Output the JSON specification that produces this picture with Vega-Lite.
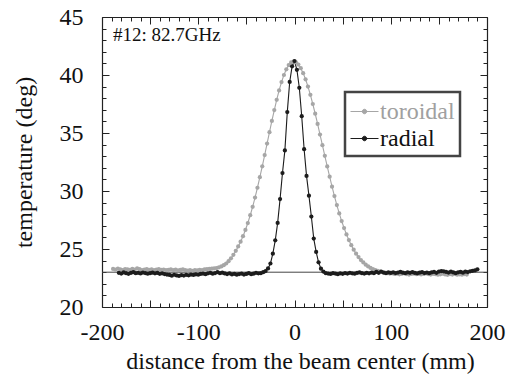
{
  "$schema": "https://vega.github.io/schema/vega-lite/v6.json",
  "width": 385,
  "height": 290,
  "autosize": {"type": "none"},
  "padding": {"left": 102, "top": 17, "right": 23, "bottom": 68},
  "config": {
    "font": "Liberation Serif",
    "view": {"stroke": null},
    "text": {"font": "Liberation Serif"},
    "legend": {"labelFont": "Liberation Serif"},
    "axis": {
      "grid": false,
      "domainColor": "#222",
      "domainWidth": 1.2,
      "tickColor": "#222",
      "tickWidth": 1,
      "labelFont": "Liberation Serif",
      "labelFontSize": 24,
      "labelColor": "#111",
      "titleFont": "Liberation Serif",
      "titleFontSize": 24,
      "titleFontWeight": "normal",
      "titleColor": "#111",
      "labelOverlap": false,
      "labelFlush": false
    }
  },
  "data": {
    "values": [
      {"series": "toroidal", "x": -188.5, "y": 23.28},
      {"series": "toroidal", "x": -186, "y": 23.22},
      {"series": "toroidal", "x": -183.5, "y": 23.31},
      {"series": "toroidal", "x": -181, "y": 23.25},
      {"series": "toroidal", "x": -178.5, "y": 23.18},
      {"series": "toroidal", "x": -176, "y": 23.27},
      {"series": "toroidal", "x": -173.5, "y": 23.24},
      {"series": "toroidal", "x": -171, "y": 23.2},
      {"series": "toroidal", "x": -168.5, "y": 23.29},
      {"series": "toroidal", "x": -166, "y": 23.23},
      {"series": "toroidal", "x": -163.5, "y": 23.34},
      {"series": "toroidal", "x": -161, "y": 23.26},
      {"series": "toroidal", "x": -158.5, "y": 23.19},
      {"series": "toroidal", "x": -156, "y": 23.22},
      {"series": "toroidal", "x": -153.5, "y": 23.27},
      {"series": "toroidal", "x": -151, "y": 23.2},
      {"series": "toroidal", "x": -148.5, "y": 23.24},
      {"series": "toroidal", "x": -146, "y": 23.17},
      {"series": "toroidal", "x": -143.5, "y": 23.22},
      {"series": "toroidal", "x": -141, "y": 23.26},
      {"series": "toroidal", "x": -138.5, "y": 23.2},
      {"series": "toroidal", "x": -136, "y": 23.23},
      {"series": "toroidal", "x": -133.5, "y": 23.18},
      {"series": "toroidal", "x": -131, "y": 23.21},
      {"series": "toroidal", "x": -128.5, "y": 23.25},
      {"series": "toroidal", "x": -126, "y": 23.19},
      {"series": "toroidal", "x": -123.5, "y": 23.22},
      {"series": "toroidal", "x": -121, "y": 23.16},
      {"series": "toroidal", "x": -118.5, "y": 23.2},
      {"series": "toroidal", "x": -116, "y": 23.24},
      {"series": "toroidal", "x": -113.5, "y": 23.18},
      {"series": "toroidal", "x": -111, "y": 23.13},
      {"series": "toroidal", "x": -108.5, "y": 23.17},
      {"series": "toroidal", "x": -106, "y": 23.12},
      {"series": "toroidal", "x": -103.5, "y": 23.19},
      {"series": "toroidal", "x": -101, "y": 23.15},
      {"series": "toroidal", "x": -98.5, "y": 23.21},
      {"series": "toroidal", "x": -96, "y": 23.18},
      {"series": "toroidal", "x": -93.5, "y": 23.24},
      {"series": "toroidal", "x": -91, "y": 23.26},
      {"series": "toroidal", "x": -88.5, "y": 23.28},
      {"series": "toroidal", "x": -86, "y": 23.3},
      {"series": "toroidal", "x": -83.5, "y": 23.33},
      {"series": "toroidal", "x": -81, "y": 23.36},
      {"series": "toroidal", "x": -78.5, "y": 23.42},
      {"series": "toroidal", "x": -76, "y": 23.5},
      {"series": "toroidal", "x": -73.5, "y": 23.6},
      {"series": "toroidal", "x": -71, "y": 23.75},
      {"series": "toroidal", "x": -68.5, "y": 23.95},
      {"series": "toroidal", "x": -66, "y": 24.2},
      {"series": "toroidal", "x": -63.5, "y": 24.5},
      {"series": "toroidal", "x": -61, "y": 24.84},
      {"series": "toroidal", "x": -58.5, "y": 25.22},
      {"series": "toroidal", "x": -56, "y": 25.63},
      {"series": "toroidal", "x": -53.5, "y": 26.1},
      {"series": "toroidal", "x": -51, "y": 26.64},
      {"series": "toroidal", "x": -48.5, "y": 27.24},
      {"series": "toroidal", "x": -46, "y": 27.91},
      {"series": "toroidal", "x": -43.5, "y": 28.64},
      {"series": "toroidal", "x": -41, "y": 29.43},
      {"series": "toroidal", "x": -38.5, "y": 30.28},
      {"series": "toroidal", "x": -36, "y": 31.19},
      {"series": "toroidal", "x": -33.5, "y": 32.13},
      {"series": "toroidal", "x": -31, "y": 33.1},
      {"series": "toroidal", "x": -28.5, "y": 34.09},
      {"series": "toroidal", "x": -26, "y": 35.07},
      {"series": "toroidal", "x": -23.5, "y": 36.04},
      {"series": "toroidal", "x": -21, "y": 36.98},
      {"series": "toroidal", "x": -18.5, "y": 37.86},
      {"series": "toroidal", "x": -16, "y": 38.67},
      {"series": "toroidal", "x": -13.5, "y": 39.39},
      {"series": "toroidal", "x": -11, "y": 40.0},
      {"series": "toroidal", "x": -8.5, "y": 40.49},
      {"series": "toroidal", "x": -6, "y": 40.86},
      {"series": "toroidal", "x": -3.5, "y": 41.08},
      {"series": "toroidal", "x": -1, "y": 41.15},
      {"series": "toroidal", "x": 1.5, "y": 41.09},
      {"series": "toroidal", "x": 4, "y": 40.9},
      {"series": "toroidal", "x": 6.5, "y": 40.59},
      {"series": "toroidal", "x": 9, "y": 40.16},
      {"series": "toroidal", "x": 11.5, "y": 39.63},
      {"series": "toroidal", "x": 14, "y": 39.0},
      {"series": "toroidal", "x": 16.5, "y": 38.29},
      {"series": "toroidal", "x": 19, "y": 37.5},
      {"series": "toroidal", "x": 21.5, "y": 36.66},
      {"series": "toroidal", "x": 24, "y": 35.78},
      {"series": "toroidal", "x": 26.5, "y": 34.87},
      {"series": "toroidal", "x": 29, "y": 33.95},
      {"series": "toroidal", "x": 31.5, "y": 33.03},
      {"series": "toroidal", "x": 34, "y": 32.12},
      {"series": "toroidal", "x": 36.5, "y": 31.23},
      {"series": "toroidal", "x": 39, "y": 30.37},
      {"series": "toroidal", "x": 41.5, "y": 29.56},
      {"series": "toroidal", "x": 44, "y": 28.79},
      {"series": "toroidal", "x": 46.5, "y": 28.07},
      {"series": "toroidal", "x": 49, "y": 27.41},
      {"series": "toroidal", "x": 51.5, "y": 26.81},
      {"series": "toroidal", "x": 54, "y": 26.26},
      {"series": "toroidal", "x": 56.5, "y": 25.77},
      {"series": "toroidal", "x": 59, "y": 25.33},
      {"series": "toroidal", "x": 61.5, "y": 24.94},
      {"series": "toroidal", "x": 64, "y": 24.6},
      {"series": "toroidal", "x": 66.5, "y": 24.31},
      {"series": "toroidal", "x": 69, "y": 24.05},
      {"series": "toroidal", "x": 71.5, "y": 23.84},
      {"series": "toroidal", "x": 74, "y": 23.65},
      {"series": "toroidal", "x": 76.5, "y": 23.5},
      {"series": "toroidal", "x": 79, "y": 23.37},
      {"series": "toroidal", "x": 81.5, "y": 23.27},
      {"series": "toroidal", "x": 84, "y": 23.18},
      {"series": "toroidal", "x": 86.5, "y": 23.11},
      {"series": "toroidal", "x": 89, "y": 23.05},
      {"series": "toroidal", "x": 91.5, "y": 23.0},
      {"series": "toroidal", "x": 94, "y": 22.96},
      {"series": "toroidal", "x": 96.5, "y": 22.92},
      {"series": "toroidal", "x": 99, "y": 22.88},
      {"series": "toroidal", "x": 101.5, "y": 22.9},
      {"series": "toroidal", "x": 104, "y": 22.85},
      {"series": "toroidal", "x": 106.5, "y": 22.87},
      {"series": "toroidal", "x": 109, "y": 22.82},
      {"series": "toroidal", "x": 111.5, "y": 22.86},
      {"series": "toroidal", "x": 114, "y": 22.9},
      {"series": "toroidal", "x": 116.5, "y": 22.84},
      {"series": "toroidal", "x": 119, "y": 22.8},
      {"series": "toroidal", "x": 121.5, "y": 22.85},
      {"series": "toroidal", "x": 124, "y": 22.88},
      {"series": "toroidal", "x": 126.5, "y": 22.83},
      {"series": "toroidal", "x": 129, "y": 22.86},
      {"series": "toroidal", "x": 131.5, "y": 22.81},
      {"series": "toroidal", "x": 134, "y": 22.85},
      {"series": "toroidal", "x": 136.5, "y": 22.89},
      {"series": "toroidal", "x": 139, "y": 22.84},
      {"series": "toroidal", "x": 141.5, "y": 22.8},
      {"series": "toroidal", "x": 144, "y": 22.86},
      {"series": "toroidal", "x": 146.5, "y": 22.83},
      {"series": "toroidal", "x": 149, "y": 22.78},
      {"series": "toroidal", "x": 151.5, "y": 22.82},
      {"series": "toroidal", "x": 154, "y": 22.87},
      {"series": "toroidal", "x": 156.5, "y": 22.81},
      {"series": "toroidal", "x": 159, "y": 22.77},
      {"series": "toroidal", "x": 161.5, "y": 22.83},
      {"series": "toroidal", "x": 164, "y": 22.8},
      {"series": "toroidal", "x": 166.5, "y": 22.85},
      {"series": "toroidal", "x": 169, "y": 22.79},
      {"series": "toroidal", "x": 171.5, "y": 22.82},
      {"series": "toroidal", "x": 174, "y": 22.78},
      {"series": "toroidal", "x": 176.5, "y": 22.84},
      {"series": "toroidal", "x": 179, "y": 22.8},
      {"series": "radial", "x": -182.5, "y": 22.95},
      {"series": "radial", "x": -180, "y": 22.88},
      {"series": "radial", "x": -177.5, "y": 22.98},
      {"series": "radial", "x": -175, "y": 22.92},
      {"series": "radial", "x": -172.5, "y": 22.86},
      {"series": "radial", "x": -170, "y": 22.94},
      {"series": "radial", "x": -167.5, "y": 23.0},
      {"series": "radial", "x": -165, "y": 22.91},
      {"series": "radial", "x": -162.5, "y": 22.95},
      {"series": "radial", "x": -160, "y": 22.89},
      {"series": "radial", "x": -157.5, "y": 22.97},
      {"series": "radial", "x": -155, "y": 22.93},
      {"series": "radial", "x": -152.5, "y": 22.87},
      {"series": "radial", "x": -150, "y": 22.92},
      {"series": "radial", "x": -147.5, "y": 22.96},
      {"series": "radial", "x": -145, "y": 22.9},
      {"series": "radial", "x": -142.5, "y": 22.94},
      {"series": "radial", "x": -140, "y": 22.86},
      {"series": "radial", "x": -137.5, "y": 22.9},
      {"series": "radial", "x": -135, "y": 22.84},
      {"series": "radial", "x": -132.5, "y": 22.8},
      {"series": "radial", "x": -130, "y": 22.76},
      {"series": "radial", "x": -127.5, "y": 22.7},
      {"series": "radial", "x": -125, "y": 22.78},
      {"series": "radial", "x": -122.5, "y": 22.72},
      {"series": "radial", "x": -120, "y": 22.68},
      {"series": "radial", "x": -117.5, "y": 22.75},
      {"series": "radial", "x": -115, "y": 22.71},
      {"series": "radial", "x": -112.5, "y": 22.77},
      {"series": "radial", "x": -110, "y": 22.73},
      {"series": "radial", "x": -107.5, "y": 22.8},
      {"series": "radial", "x": -105, "y": 22.76},
      {"series": "radial", "x": -102.5, "y": 22.82},
      {"series": "radial", "x": -100, "y": 22.78},
      {"series": "radial", "x": -97.5, "y": 22.85},
      {"series": "radial", "x": -95, "y": 22.88},
      {"series": "radial", "x": -92.5, "y": 22.83},
      {"series": "radial", "x": -90, "y": 22.9},
      {"series": "radial", "x": -87.5, "y": 22.95},
      {"series": "radial", "x": -85, "y": 22.87},
      {"series": "radial", "x": -82.5, "y": 22.93},
      {"series": "radial", "x": -80, "y": 23.0},
      {"series": "radial", "x": -77.5, "y": 22.92},
      {"series": "radial", "x": -75, "y": 22.96},
      {"series": "radial", "x": -72.5, "y": 22.89},
      {"series": "radial", "x": -70, "y": 22.84},
      {"series": "radial", "x": -67.5, "y": 22.9},
      {"series": "radial", "x": -65, "y": 22.81},
      {"series": "radial", "x": -62.5, "y": 22.86},
      {"series": "radial", "x": -60, "y": 22.79},
      {"series": "radial", "x": -57.5, "y": 22.84},
      {"series": "radial", "x": -55, "y": 22.88},
      {"series": "radial", "x": -52.5, "y": 22.8},
      {"series": "radial", "x": -50, "y": 22.85},
      {"series": "radial", "x": -47.5, "y": 22.91},
      {"series": "radial", "x": -45, "y": 22.83},
      {"series": "radial", "x": -42.5, "y": 22.87},
      {"series": "radial", "x": -40, "y": 22.95},
      {"series": "radial", "x": -37.5, "y": 22.9},
      {"series": "radial", "x": -35, "y": 22.92},
      {"series": "radial", "x": -32.5, "y": 23.0},
      {"series": "radial", "x": -30, "y": 23.1},
      {"series": "radial", "x": -27.5, "y": 23.32},
      {"series": "radial", "x": -25, "y": 23.75},
      {"series": "radial", "x": -22.5, "y": 24.6},
      {"series": "radial", "x": -20, "y": 25.75},
      {"series": "radial", "x": -17.5, "y": 27.25},
      {"series": "radial", "x": -15, "y": 29.3},
      {"series": "radial", "x": -12.5, "y": 31.55},
      {"series": "radial", "x": -10, "y": 33.5},
      {"series": "radial", "x": -7.5, "y": 36.8},
      {"series": "radial", "x": -5, "y": 39.4},
      {"series": "radial", "x": -2.5, "y": 40.75},
      {"series": "radial", "x": 0, "y": 41.2},
      {"series": "radial", "x": 2.5, "y": 40.45},
      {"series": "radial", "x": 5, "y": 38.9},
      {"series": "radial", "x": 7.5, "y": 36.45},
      {"series": "radial", "x": 10, "y": 33.6},
      {"series": "radial", "x": 12.5, "y": 31.3},
      {"series": "radial", "x": 15, "y": 29.6},
      {"series": "radial", "x": 17.5, "y": 27.8},
      {"series": "radial", "x": 20, "y": 25.9},
      {"series": "radial", "x": 22.5, "y": 24.75},
      {"series": "radial", "x": 25, "y": 23.85},
      {"series": "radial", "x": 27.5, "y": 23.3},
      {"series": "radial", "x": 30, "y": 23.05},
      {"series": "radial", "x": 32.5, "y": 22.92},
      {"series": "radial", "x": 35, "y": 22.88},
      {"series": "radial", "x": 37.5, "y": 22.85},
      {"series": "radial", "x": 40, "y": 22.92},
      {"series": "radial", "x": 42.5, "y": 22.88},
      {"series": "radial", "x": 45, "y": 22.83},
      {"series": "radial", "x": 47.5, "y": 22.9},
      {"series": "radial", "x": 50, "y": 22.86},
      {"series": "radial", "x": 52.5, "y": 22.93},
      {"series": "radial", "x": 55, "y": 22.88},
      {"series": "radial", "x": 57.5, "y": 22.95},
      {"series": "radial", "x": 60, "y": 22.9},
      {"series": "radial", "x": 62.5, "y": 22.87},
      {"series": "radial", "x": 65, "y": 22.94},
      {"series": "radial", "x": 67.5, "y": 22.98},
      {"series": "radial", "x": 70, "y": 22.91},
      {"series": "radial", "x": 72.5, "y": 22.88},
      {"series": "radial", "x": 75, "y": 22.95},
      {"series": "radial", "x": 77.5, "y": 22.9},
      {"series": "radial", "x": 80, "y": 22.97},
      {"series": "radial", "x": 82.5, "y": 22.92},
      {"series": "radial", "x": 85, "y": 23.02},
      {"series": "radial", "x": 87.5, "y": 22.95},
      {"series": "radial", "x": 90, "y": 23.05},
      {"series": "radial", "x": 92.5, "y": 22.97},
      {"series": "radial", "x": 95, "y": 22.92},
      {"series": "radial", "x": 97.5, "y": 22.98},
      {"series": "radial", "x": 100, "y": 22.94},
      {"series": "radial", "x": 102.5, "y": 22.99},
      {"series": "radial", "x": 105, "y": 22.93},
      {"series": "radial", "x": 107.5, "y": 22.97},
      {"series": "radial", "x": 110, "y": 23.03},
      {"series": "radial", "x": 112.5, "y": 22.96},
      {"series": "radial", "x": 115, "y": 22.92},
      {"series": "radial", "x": 117.5, "y": 22.98},
      {"series": "radial", "x": 120, "y": 22.95},
      {"series": "radial", "x": 122.5, "y": 23.01},
      {"series": "radial", "x": 125, "y": 22.94},
      {"series": "radial", "x": 127.5, "y": 22.9},
      {"series": "radial", "x": 130, "y": 22.96},
      {"series": "radial", "x": 132.5, "y": 23.0},
      {"series": "radial", "x": 135, "y": 22.93},
      {"series": "radial", "x": 137.5, "y": 22.97},
      {"series": "radial", "x": 140, "y": 22.92},
      {"series": "radial", "x": 142.5, "y": 22.98},
      {"series": "radial", "x": 145, "y": 23.02},
      {"series": "radial", "x": 147.5, "y": 22.95},
      {"series": "radial", "x": 150, "y": 23.05},
      {"series": "radial", "x": 152.5, "y": 23.1},
      {"series": "radial", "x": 155, "y": 23.08},
      {"series": "radial", "x": 157.5, "y": 23.02},
      {"series": "radial", "x": 160, "y": 22.97},
      {"series": "radial", "x": 162.5, "y": 23.04},
      {"series": "radial", "x": 165, "y": 22.98},
      {"series": "radial", "x": 167.5, "y": 22.92},
      {"series": "radial", "x": 170, "y": 22.99},
      {"series": "radial", "x": 172.5, "y": 23.03},
      {"series": "radial", "x": 175, "y": 22.96},
      {"series": "radial", "x": 177.5, "y": 23.06},
      {"series": "radial", "x": 180, "y": 23.01},
      {"series": "radial", "x": 182.5, "y": 23.08},
      {"series": "radial", "x": 185, "y": 23.12},
      {"series": "radial", "x": 187.5, "y": 23.15},
      {"series": "radial", "x": 190, "y": 23.25}
    ]
  },
  "layer": [
    {
      "data": {"values": [{"y": 23}]},
      "mark": {"type": "rule", "color": "#444", "strokeWidth": 1},
      "encoding": {
        "y": {"field": "y", "type": "quantitative", "scale": {"domain": [20, 45], "nice": false, "zero": false}, "axis": null}
      }
    },
    {
      "mark": {"type": "line", "strokeWidth": 1.1},
      "encoding": {
        "x": {
          "field": "x", "type": "quantitative",
          "scale": {"domain": [-200, 200], "nice": false, "zero": false},
          "axis": {
            "orient": "bottom",
            "title": "distance from the beam center (mm)",
            "values": [-200,-190,-180,-170,-160,-150,-140,-130,-120,-110,-100,-90,-80,-70,-60,-50,-40,-30,-20,-10,0,10,20,30,40,50,60,70,80,90,100,110,120,130,140,150,160,170,180,190,200],
            "labelExpr": "datum.value % 100 === 0 ? (datum.value < 0 ? '-' : '') + abs(datum.value) : ''",
            "labelFont": "Liberation Serif",
            "tickSize": {"condition": {"test": "datum.value % 50 === 0", "value": -7}, "value": -4},
            "labelPadding": 20,
            "titlePadding": 2,
            "titleX": 198
          }
        },
        "y": {
          "field": "y", "type": "quantitative",
          "scale": {"domain": [20, 45], "nice": false, "zero": false},
          "axis": {
            "orient": "left",
            "title": "temperature (deg)",
            "values": [20,21,22,23,24,25,26,27,28,29,30,31,32,33,34,35,36,37,38,39,40,41,42,43,44,45],
            "labelExpr": "datum.value % 5 === 0 ? '' + datum.value : ''",
            "labelFont": "Liberation Serif",
            "tickSize": {"condition": {"test": "datum.value % 5 === 0", "value": -7}, "value": -4},
            "labelPadding": 26,
            "titlePadding": 23
          }
        },
        "color": {
          "field": "series", "type": "nominal",
          "scale": {"domain": ["toroidal", "radial"], "range": ["#a6a6a6", "#1c1c1c"]},
          "legend": {
            "title": null,
            "orient": "none",
            "legendX": 243,
            "legendY": 75,
            "direction": "vertical",
            "symbolType": "M-1,0H1M-0.16,0A0.16,0.16,0,1,0,0.16,0A0.16,0.16,0,1,0,-0.16,0",
            "symbolSize": 784,
            "symbolStrokeWidth": 1,
            "labelFont": "Liberation Serif",
            "labelFontSize": 24,
            "labelOffset": 1,
            "padding": 5,
            "rowPadding": -5,
            "strokeColor": "#444",
            "fillColor": "white",
            "encode": {
              "legend": {"update": {"strokeWidth": {"value": 2.5}}},
              "labels": {"update": {"font": {"value": "Liberation Serif"}, "fill": [{"test": "datum.value === 'toroidal'", "value": "#a0a0a0"}, {"value": "#111"}]}},
              "symbols": {"update": {"fill": {"scale": "color", "field": "value"}, "stroke": {"scale": "color", "field": "value"}}}
            }
          }
        }
      }
    },
    {
      "mark": {"type": "point", "filled": true, "size": 18, "opacity": 1},
      "encoding": {
        "x": {"field": "x", "type": "quantitative", "axis": null},
        "y": {"field": "y", "type": "quantitative", "axis": null},
        "color": {"field": "series", "type": "nominal"}
      }
    },
    {
      "data": {"values": [{"x": -188.6, "y": 42.96, "label": "#12: 82.7GHz"}]},
      "mark": {"type": "text", "align": "left", "baseline": "alphabetic", "fontSize": 19, "font": "Liberation Serif", "color": "#111"},
      "encoding": {
        "x": {
          "field": "x", "type": "quantitative",
          "axis": {
            "orient": "top", "title": null, "labels": false,
            "values": [-200,-190,-180,-170,-160,-150,-140,-130,-120,-110,-100,-90,-80,-70,-60,-50,-40,-30,-20,-10,0,10,20,30,40,50,60,70,80,90,100,110,120,130,140,150,160,170,180,190,200],
            "tickSize": {"condition": {"test": "datum.value % 50 === 0", "value": -7}, "value": -4}
          }
        },
        "y": {
          "field": "y", "type": "quantitative",
          "axis": {
            "orient": "right", "title": null, "labels": false,
            "values": [20,21,22,23,24,25,26,27,28,29,30,31,32,33,34,35,36,37,38,39,40,41,42,43,44,45],
            "tickSize": {"condition": {"test": "datum.value % 5 === 0", "value": -7}, "value": -4}
          }
        },
        "text": {"field": "label"}
      }
    }
  ],
  "resolve": {"axis": {"x": "independent", "y": "independent"}}
}
